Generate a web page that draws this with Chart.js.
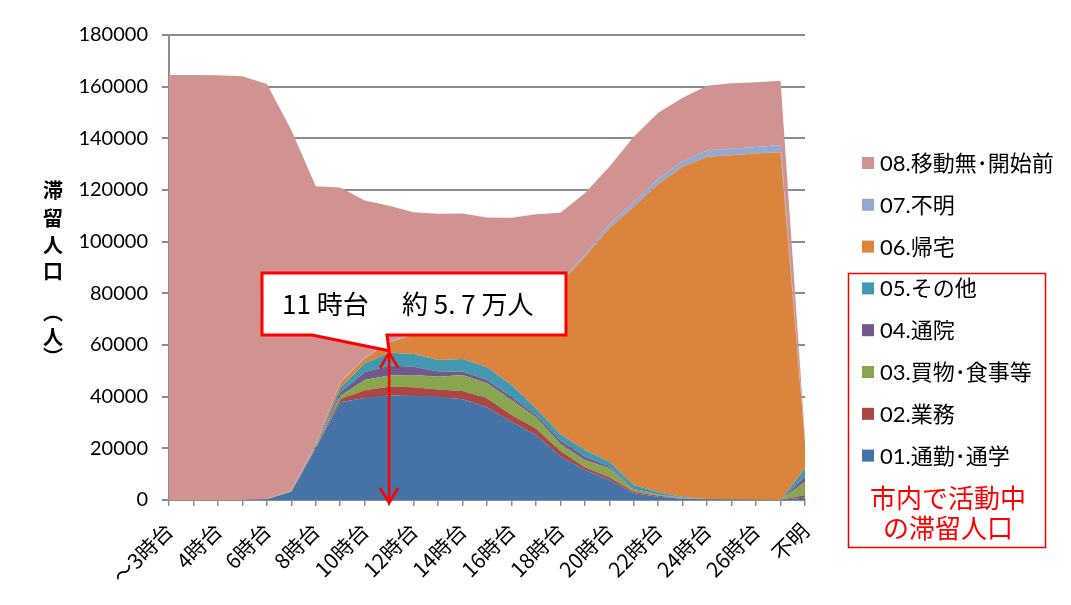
<!DOCTYPE html>
<html lang="ja">
<head>
<meta charset="utf-8">
<title>滞留人口</title>
<script src="https://cdn.jsdelivr.net/npm/chart.js@4.4.1/dist/chart.umd.min.js"></script>
<style>
  html, body { margin: 0; padding: 0; background: #fff; }
  #wrap { position: relative; width: 1071px; height: 605px; }
</style>
</head>
<body>
<div id="wrap"><canvas id="myChart" width="1071" height="605"></canvas></div>
<script>
// hour categories (x axis)
const categories = ['～3時台', '3時台', '4時台', '5時台', '6時台', '7時台', '8時台', '9時台', '10時台',
    '11時台', '12時台', '13時台', '14時台', '15時台', '16時台', '17時台', '18時台', '19時台', '20時台',
    '21時台', '22時台', '23時台', '24時台', '25時台', '26時台', '27時台', '不明'];

// people staying in the city, by purpose (stacked, bottom to top)
const commute  = [0, 0, 0, 0, 300, 3200, 20000, 37800, 39500, 40500, 40300, 40000, 39000, 35900, 30300, 25200, 16800, 11600, 7700, 2600, 1300, 500, 200, 100, 100, 0, 1000];
const business = [0, 0, 0, 0, 0, 100, 400, 1200, 3000, 3300, 3300, 2800, 3200, 3500, 2600, 2500, 2200, 1100, 1100, 600, 300, 100, 0, 0, 0, 0, 900];
const shopping = [0, 0, 0, 0, 0, 100, 300, 1300, 4000, 4400, 4800, 4900, 6200, 5800, 5800, 4300, 2700, 2800, 3500, 700, 400, 200, 100, 0, 0, 0, 5200];
const hospital = [0, 0, 0, 0, 0, 0, 200, 1300, 3000, 3900, 3200, 2000, 1300, 1300, 1300, 900, 1300, 1300, 600, 400, 200, 100, 0, 0, 0, 0, 1900];
const other    = [0, 0, 0, 0, 0, 100, 400, 1900, 3300, 4900, 4900, 4500, 4900, 4900, 4500, 2600, 2500, 2600, 1900, 1500, 800, 300, 100, 100, 0, 0, 3300];
const goHome   = [0, 0, 0, 0, 100, 300, 300, 2000, 2000, 4000, 7500, 13300, 15900, 22600, 33000, 45000, 58500, 74700, 90400, 107700, 119300, 127800, 132500, 133300, 134000, 134600, 10000];
const unknown  = [0, 0, 0, 0, 0, 100, 100, 300, 300, 400, 400, 400, 400, 400, 400, 500, 500, 800, 1400, 1800, 2000, 2100, 2500, 2500, 2500, 2800, 700];
const notMoved = [164500, 164500, 164400, 164000, 160600, 139300, 99800, 75200, 60800, 52500, 47000, 42900, 40000, 35000, 31400, 29600, 26700, 23800, 22400, 25300, 25600, 24600, 25000, 25300, 25100, 24900, 1000];

const yTicks = { min: 0, max: 180000, step: 20000 };
const seriesNames = ['01.通勤･通学', '02.業務', '03.買物･食事等', '04.通院', '05.その他', '06.帰宅', '07.不明', '08.移動無･開始前'];
const seriesColors = ['#4572A7', '#AA4643', '#89A54E', '#71588F', '#4198AF', '#DB843D', '#93A9CF', '#D19392'];
const seriesData = [commute, business, shopping, hospital, other, goHome, unknown, notMoved];

// callout hour (11時台) and the number of purposes counted as "active in the city"
const focusHour = '11時台';
const activeCount = 5;

const CJK = "'Noto Sans CJK JP', sans-serif";
const LATIN = "Lato, 'Noto Sans CJK JP', sans-serif";
Chart.defaults.font.family = CJK;
Chart.defaults.color = '#000';

const datasets = seriesData.map((arr, i) => ({
    label: seriesNames[i],
    data: arr,
    backgroundColor: seriesColors[i],
    borderColor: 'rgba(0,0,0,0)',
    borderWidth: 0,
    pointRadius: 0,
    pointHoverRadius: 0,
    tension: 0,
    fill: i === 0 ? 'origin' : '-1'
}));

// y title, legend, red frame, callout and arrow
const extras = {
    id: 'extras',
    afterDraw(chart) {
        const ctx = chart.ctx;
        const x = chart.scales.x, y = chart.scales.y;
        ctx.save();

        // vertical y axis title
        ctx.fillStyle = '#000';
        ctx.font = 'bold 20px ' + CJK;
        ctx.textAlign = 'center';
        ctx.textBaseline = 'middle';
        const titleChars = [['滞', 190], ['留', 218], ['人', 245], ['口', 271], ['︵', 312], ['人', 337], ['︶', 357]];
        titleChars.forEach(([c, cy]) => ctx.fillText(c, 53, cy));

        // legend, top item is the last series
        ctx.font = '22px ' + LATIN;
        ctx.textAlign = 'left';
        for (let k = 0; k < seriesNames.length; k++) {
            const idx = seriesNames.length - 1 - k;
            const cy = 163 + k * 41.8;
            ctx.fillStyle = seriesColors[idx];
            ctx.fillRect(862, cy - 6, 12, 12);
            ctx.fillStyle = '#000';
            ctx.fillText(seriesNames[idx], 880, cy + 1);
        }

        // frame around the active purposes
        ctx.strokeStyle = '#ff0000';
        ctx.lineWidth = 1.5;
        ctx.strokeRect(848.5, 273.5, 197, 274);
        ctx.fillStyle = '#ff0000';
        ctx.font = '26px ' + CJK;
        ctx.textAlign = 'center';
        ctx.fillText('市内で活動中', 948, 498);
        ctx.fillText('の滞留人口', 948, 528);

        // arrow at the focus hour, from 0 to the active total
        const fi = categories.indexOf(focusHour);
        let active = 0;
        for (let s = 0; s < activeCount; s++) active += seriesData[s][fi];
        const ax = x.getPixelForValue(fi);
        const aTop = y.getPixelForValue(active);
        const aBot = y.getPixelForValue(0);

        // callout box
        ctx.beginPath();
        ctx.moveTo(262, 273);
        ctx.lineTo(566, 273);
        ctx.lineTo(566, 335);
        ctx.lineTo(387, 335);
        ctx.lineTo(ax, aTop - 2);
        ctx.lineTo(312, 335);
        ctx.lineTo(262, 335);
        ctx.closePath();
        ctx.fillStyle = '#fff';
        ctx.fill();
        ctx.strokeStyle = '#ff0000';
        ctx.lineWidth = 3;
        ctx.stroke();

        ctx.fillStyle = '#000';
        ctx.font = '26px ' + CJK;
        ctx.textAlign = 'left';
        ctx.fillText('11 時台', 282, 304);
        const amount = (active / 10000).toFixed(1).replace('.', '. ');
        ctx.fillText('約 ' + amount + ' 万人', 402, 304);

        ctx.strokeStyle = '#ff0000';
        ctx.lineWidth = 2.5;
        ctx.beginPath();
        ctx.moveTo(ax, aTop);
        ctx.lineTo(ax, aBot + 3);
        ctx.moveTo(ax - 9, aTop + 15);
        ctx.lineTo(ax, aTop);
        ctx.lineTo(ax + 9, aTop + 15);
        ctx.moveTo(ax - 9, aBot - 12);
        ctx.lineTo(ax, aBot + 3);
        ctx.lineTo(ax + 9, aBot - 12);
        ctx.stroke();

        ctx.restore();
    }
};

const ctx = document.getElementById('myChart');
const myChart = new Chart(ctx, {
    type: 'line',
    data: { labels: categories, datasets: datasets },
    plugins: [extras],
    options: {
        responsive: false,
        animation: false,
        devicePixelRatio: 1,
        layout: { padding: { left: 0, right: 266, top: 35, bottom: 0 } },
        plugins: {
            legend: { display: false },
            tooltip: { enabled: false }
        },
        scales: {
            x: {
                offset: false,
                grid: { drawOnChartArea: false, drawTicks: true, tickLength: 6, color: '#8c8c8c', lineWidth: 1.5 },
                border: { display: true, color: '#8c8c8c', width: 2 },
                ticks: {
                    autoSkip: false,
                    maxRotation: 45,
                    minRotation: 45,
                    padding: 12,
                    font: { size: 21, family: CJK },
                    callback: (v, i) => (i % 2 === 0 ? categories[i] : '')
                },
                afterFit: (s) => { s.height = 105; }
            },
            y: {
                stacked: true,
                min: yTicks.min,
                max: yTicks.max,
                grid: { color: '#8c8c8c', lineWidth: 2, tickLength: 7 },
                border: { display: true, color: '#8c8c8c', width: 2 },
                ticks: {
                    stepSize: yTicks.step,
                    padding: 14,
                    font: { size: 20, family: LATIN },
                    callback: (v) => String(v)
                },
                afterFit: (s) => { s.width = 169; }
            }
        }
    }
});
</script>
</body>
</html>
